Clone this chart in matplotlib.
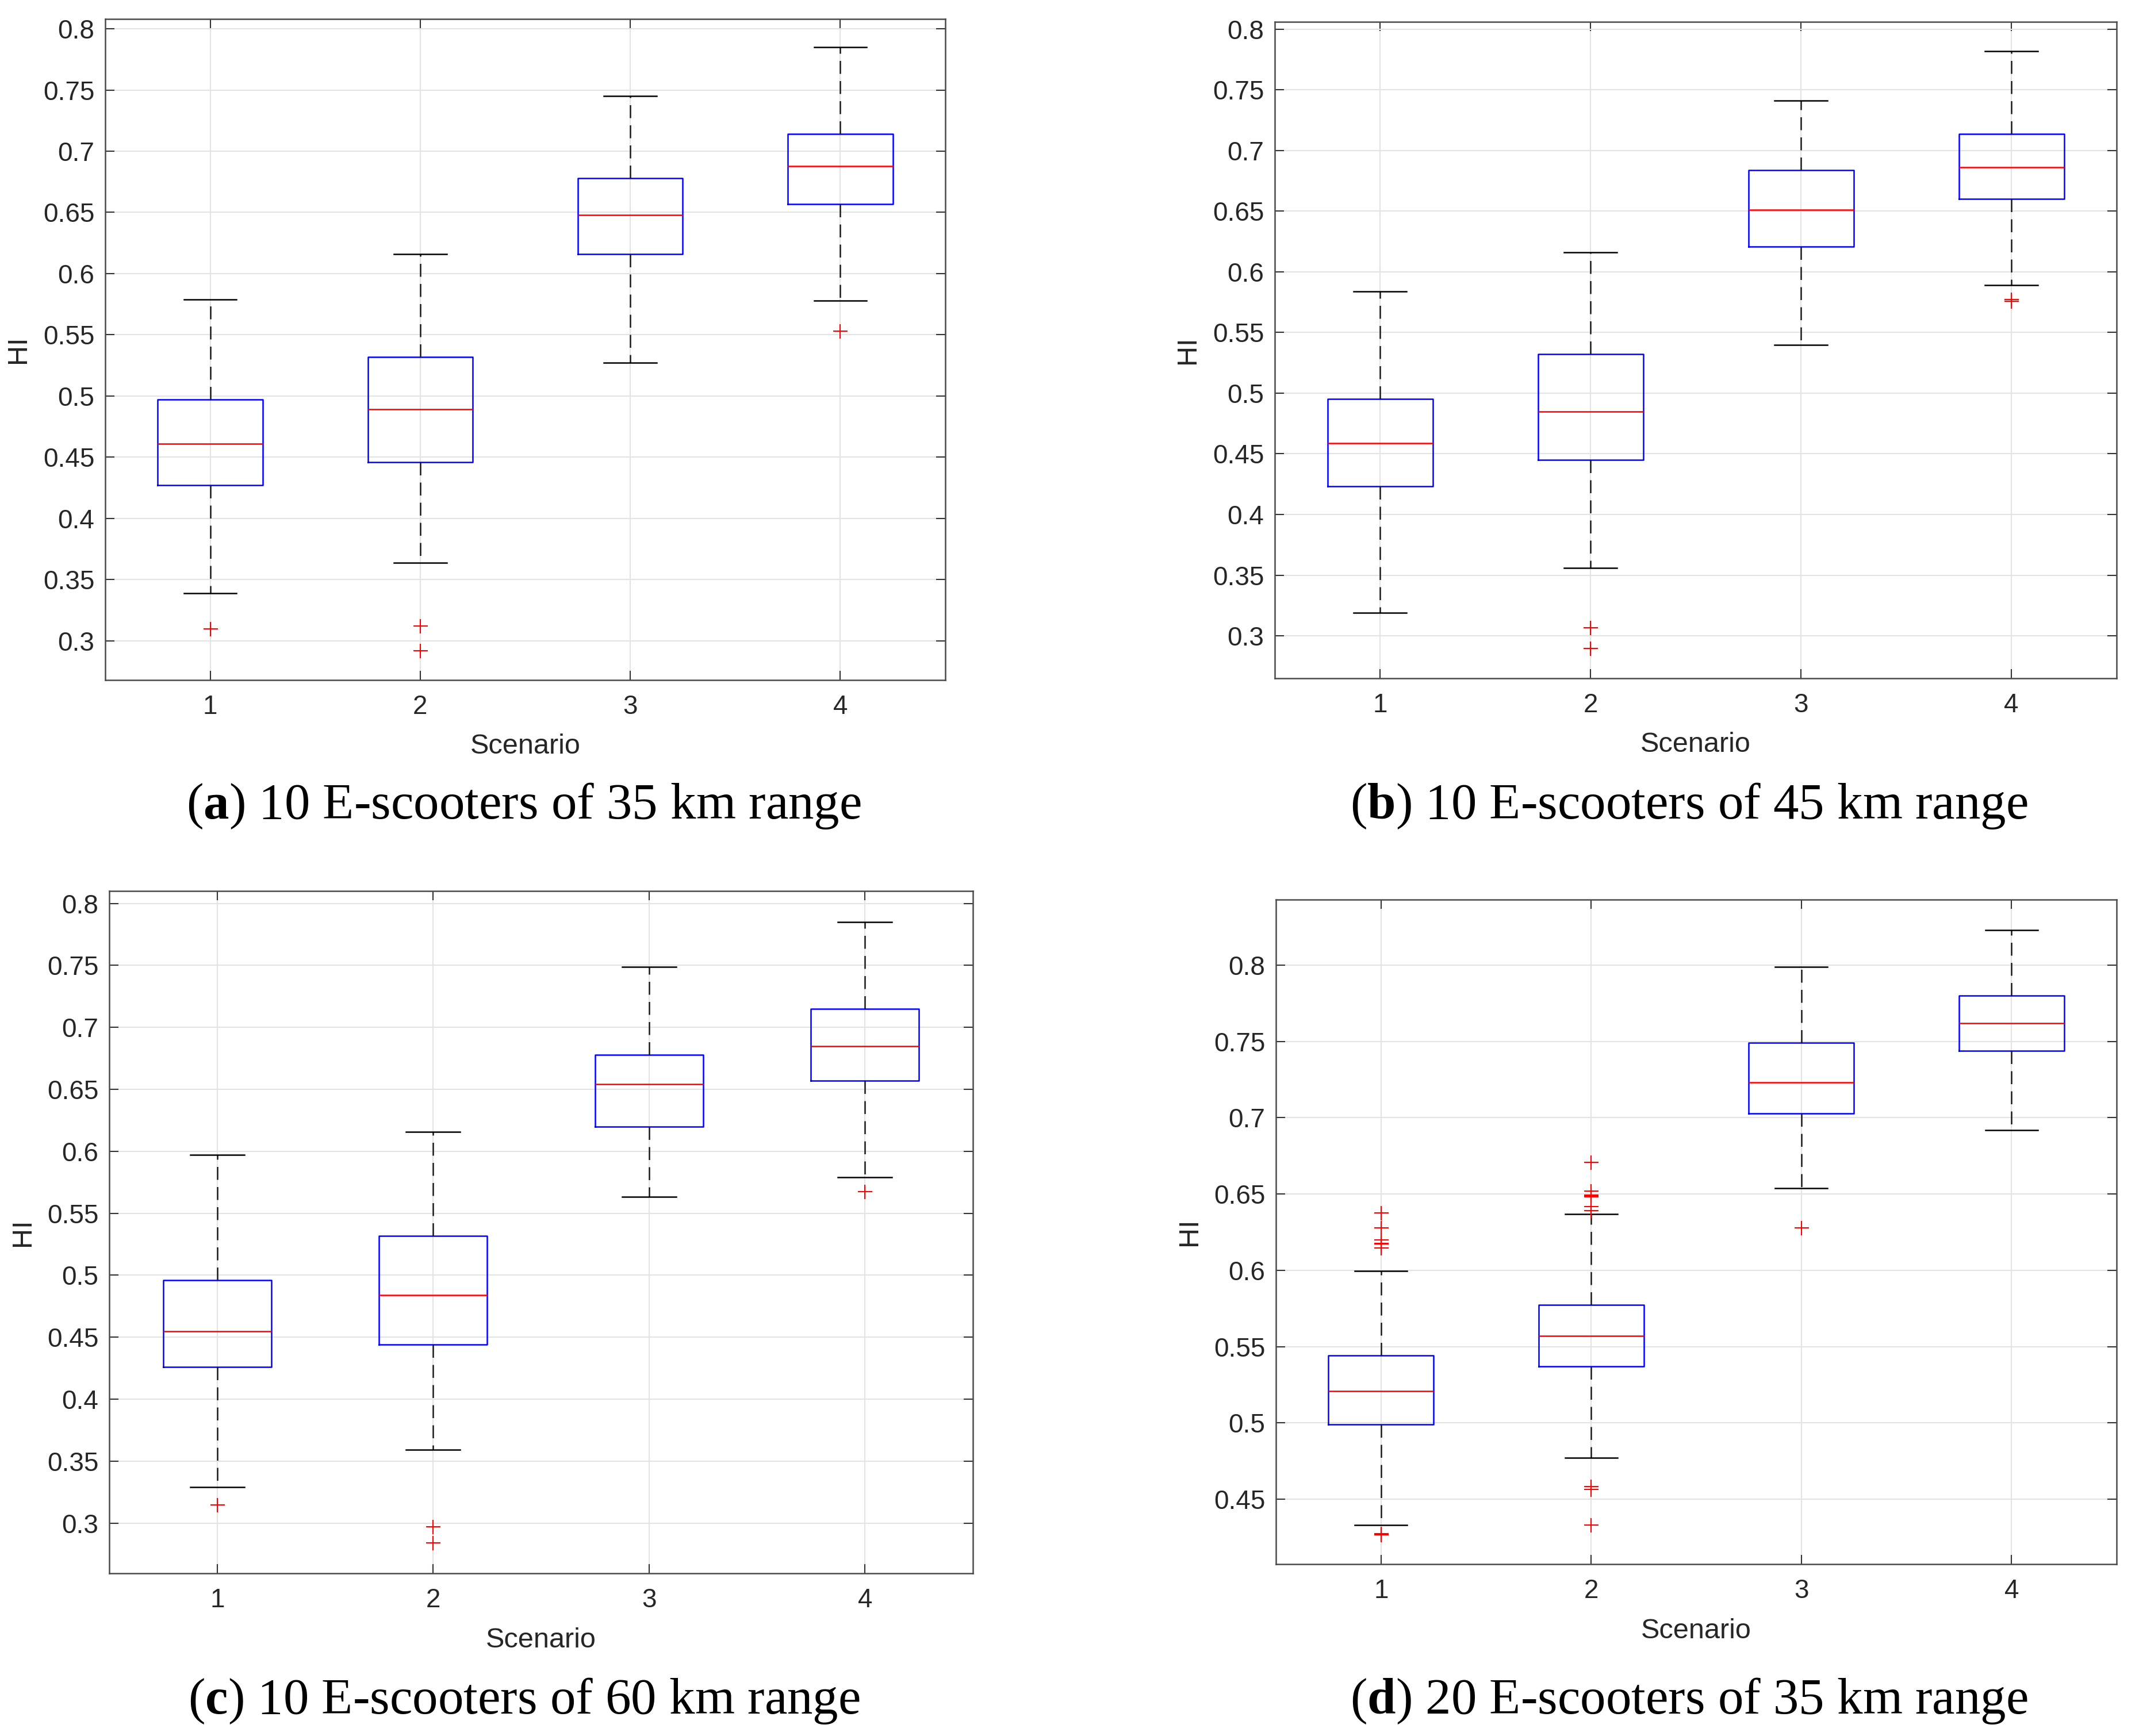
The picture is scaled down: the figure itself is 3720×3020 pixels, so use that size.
import matplotlib
matplotlib.use("Agg")
import matplotlib.pyplot as plt
from matplotlib.ticker import FuncFormatter, FixedLocator

plt.rcParams['font.family'] = ['Liberation Sans', 'DejaVu Sans']
plt.rcParams['mathtext.fontset'] = 'custom'
plt.rcParams['mathtext.rm'] = 'Liberation Serif'
plt.rcParams['mathtext.bf'] = 'Liberation Serif:bold'

# ---------------- data ----------------
scenarios = [1, 2, 3, 4]

a_q1 = [0.427, 0.446, 0.616, 0.657]
a_med = [0.461, 0.489, 0.648, 0.688]
a_q3 = [0.497, 0.532, 0.678, 0.714]
a_lo = [0.339, 0.364, 0.527, 0.578]
a_hi = [0.579, 0.616, 0.745, 0.785]
a_fl = [[0.310], [0.312, 0.292], [], [0.553]]

b_q1 = [0.423, 0.445, 0.621, 0.660]
b_med = [0.4587, 0.485, 0.651, 0.686]
b_q3 = [0.495, 0.532, 0.684, 0.7135]
b_lo = [0.319, 0.356, 0.540, 0.589]
b_hi = [0.584, 0.616, 0.741, 0.782]
b_fl = [[], [0.3065, 0.2895], [], [0.577, 0.576]]

c_q1 = [0.426, 0.444, 0.620, 0.657]
c_med = [0.4547, 0.484, 0.654, 0.685]
c_q3 = [0.496, 0.5316, 0.678, 0.715]
c_lo = [0.329, 0.359, 0.5635, 0.579]
c_hi = [0.597, 0.6156, 0.749, 0.785]
c_fl = [[0.3148], [0.297, 0.284], [], [0.5675]]

d_q1 = [0.499, 0.537, 0.703, 0.744]
d_med = [0.521, 0.557, 0.723, 0.762]
d_q3 = [0.544, 0.5775, 0.749, 0.780]
d_lo = [0.4329, 0.477, 0.654, 0.692]
d_hi = [0.5996, 0.6368, 0.799, 0.823]
d_fl = [[0.6377, 0.6277, 0.6199, 0.6178, 0.6172, 0.6145, 0.4275, 0.4270, 0.4266],
        [0.6707, 0.6519, 0.6495, 0.6490, 0.6483, 0.6418, 0.6393, 0.4582, 0.4565, 0.4329],
        [0.628],
        []]

yticks_abc = [0.3, 0.35, 0.4, 0.45, 0.5, 0.55, 0.6, 0.65, 0.7, 0.75, 0.8]
yticks_d = [0.45, 0.5, 0.55, 0.6, 0.65, 0.7, 0.75, 0.8]

captions = [("a", "10 E-scooters of 35 km range"),
            ("b", "10 E-scooters of 45 km range"),
            ("c", "10 E-scooters of 60 km range"),
            ("d", "20 E-scooters of 35 km range")]

# ---------------- layout ----------------
W, H = 3720, 3020
fig = plt.figure(figsize=(W / 100, H / 100), dpi=100)

# axes boxes in pixels: left, top, right, bottom
boxes_px = [(183, 33, 1644, 1183),
            (2217, 38, 3681, 1180),
            (190, 1550, 1692, 2737),
            (2219, 1565, 3681, 2721)]
ylims = [(0.268, 0.808), (0.265, 0.806), (0.2595, 0.810), (0.4074, 0.843)]
caption_xy_px = [(911, 1402), (2937, 1402), (911, 2959), (2937, 2959)]

panels = [
    (a_q1, a_med, a_q3, a_lo, a_hi, a_fl, yticks_abc),
    (b_q1, b_med, b_q3, b_lo, b_hi, b_fl, yticks_abc),
    (c_q1, c_med, c_q3, c_lo, c_hi, c_fl, yticks_abc),
    (d_q1, d_med, d_q3, d_lo, d_hi, d_fl, yticks_d),
]

txt_col = '#262626'
fmt = FuncFormatter(lambda v, p: ('%g' % round(v, 4)))

for i, (q1, med, q3, lo, hi, fl, yt) in enumerate(panels):
    l, t, r, b = boxes_px[i]
    ax = fig.add_axes([l / W, 1 - b / H, (r - l) / W, (b - t) / H])
    stats = []
    for k in range(len(scenarios)):
        stats.append(dict(med=med[k], q1=q1[k], q3=q3[k],
                          whislo=lo[k], whishi=hi[k], fliers=fl[k]))
    ax.bxp(stats, positions=scenarios, widths=0.5, capwidths=0.25,
           showfliers=True, manage_ticks=False,
           boxprops=dict(color='#0000FF', linewidth=1.8),
           medianprops=dict(color='#FF0000', linewidth=1.8),
           whiskerprops=dict(color='#1A1A1A', linewidth=1.8, linestyle=(0, (9, 5))),
           capprops=dict(color='#000000', linewidth=1.8),
           flierprops=dict(marker='+', markersize=18, markeredgewidth=1.5,
                           markeredgecolor='#FF0000', linestyle='none'))
    ax.set_xlim(0.5, 4.5)
    ax.set_ylim(*ylims[i])
    ax.xaxis.set_major_locator(FixedLocator(scenarios))
    ax.yaxis.set_major_locator(FixedLocator(yt))
    ax.yaxis.set_major_formatter(fmt)
    ax.set_axisbelow(True)
    ax.grid(True, color='#E3E3E3', linewidth=1.5)
    for s in ax.spines.values():
        s.set_color('#4A4A4A')
        s.set_linewidth(1.8)
    ax.tick_params(axis='both', direction='in', length=11.5, width=1.5,
                   colors='#333333', labelcolor=txt_col, labelsize=33,
                   top=True, right=True)
    ax.tick_params(axis='x', pad=18)
    ax.tick_params(axis='y', pad=13.5)

    axw, axh = r - l, b - t
    ax.text(0.5, -116 / axh, 'Scenario', transform=ax.transAxes,
            ha='center', va='center', fontsize=35, color=txt_col)
    ax.text(-151 / axw, 0.5, 'HI', transform=ax.transAxes, rotation=90,
            ha='center', va='center', fontsize=35, color=txt_col)

    letter, desc = captions[i]
    cx, cy = caption_xy_px[i]
    fig.text(cx / W, 1 - cy / H, r'($\mathbf{%s}$) %s' % (letter, desc),
             ha='center', va='center', fontsize=64,
             family=['Liberation Serif', 'DejaVu Serif'], color='black')

fig.savefig('out.png', dpi=100, facecolor='white')
